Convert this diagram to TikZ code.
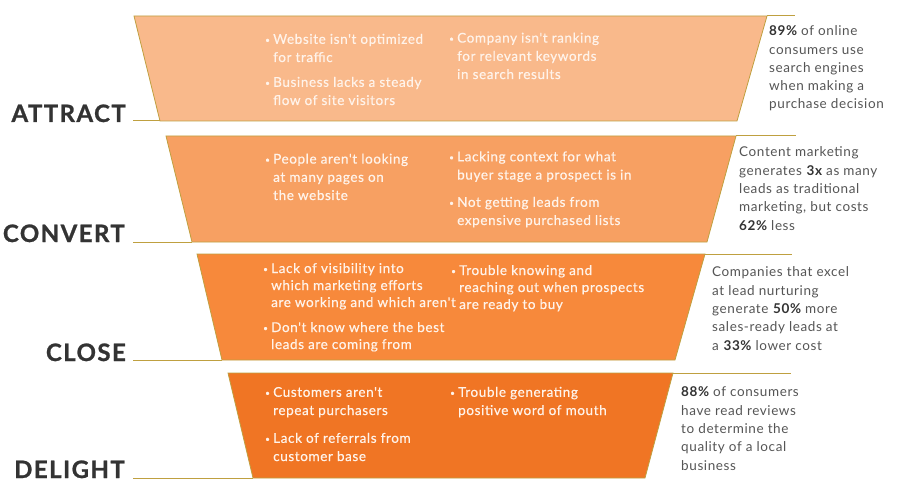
\documentclass[tikz,border=0pt]{standalone}
\usepackage{fontspec}
\usepackage{xcolor}
\setmainfont{Lato}
\newfontfamily\stagefont{Lato}[LetterSpace=6, BoldFeatures={FakeBold=1}]
\newfontfamily\bodyfont{Lato}[LetterSpace=4.5]
\newfontfamily\pointfont{Lato}[LetterSpace=4.5, FakeBold=0.5]

\definecolor{bandA}{HTML}{F9B98B}
\definecolor{bandB}{HTML}{F7A062}
\definecolor{bandC}{HTML}{F7893B}
\definecolor{bandD}{HTML}{F07524}
\definecolor{edge}{HTML}{BFA040}
\definecolor{ink}{HTML}{333333}
\definecolor{pale}{HTML}{FFF3EA}
\definecolor{grey}{HTML}{555555}

\newcommand{\bul}{\makebox[8pt][l]{\raisebox{1pt}{\scalebox{0.6}{•}}}}
\newcommand{\ind}{\hspace*{8pt}}
\newcommand{\hi}[1]{\textbf{\color{ink}#1}}

\begin{document}
\begin{tikzpicture}[x=1pt,y=-1pt,
    stage/.style={anchor=base east,inner sep=0pt,text=ink,font=\stagefont\fontsize{24}{24}\selectfont\bfseries},
    point/.style={anchor=base west,inner sep=0pt,align=left,text=pale,font=\pointfont\fontsize{13.5}{18.2}\selectfont},
    fact/.style={anchor=base west,inner sep=0pt,align=left,text=grey,font=\bodyfont\fontsize{13.5}{18.3}\selectfont}]
        \useasboundingbox (0,0) rectangle (900,492);

        % funnel bands: top/bottom/top left/bottom left/top right/bottom right/line end/colour
        \foreach \t/\b/\tl/\bl/\tr/\br/\e/\c in {16/121/134/160/767/737/795/bandA,
                136/242/166/192/736/707/796/bandB,
                254/360/197/222/705/675/792/bandC,
                373/478/228/253/673/645/791/bandD} {
            \filldraw[fill=\c, draw=edge, line width=0.8pt] (\tl,\t) -- (\tr,\t) -- (\br,\b) -- (\bl,\b) -- cycle;
            \draw[edge, line width=1pt] (\tr,\t) -- (\e,\t);
            \draw[edge, line width=1pt] (133,\b) -- (\bl,\b);
        }

        \node[stage] (attract) at (126,122) {ATTRACT};
        \node[stage] (convert) at (125,242) {CONVERT};
        \node[stage] (close) at (126,361) {CLOSE};
        \node[stage] (delight) at (125,478) {DELIGHT};

        % attract (nodes sit on the baseline of their last line)
        \node[point] (a1) at (265,62) {\bul Website isn't optimized\\\ind for traffic};
        \node[point] (a2) at (265,105) {\bul Business lacks a steady\\\ind flow of site visitors};
        \node[point] (a3) at (449,79) {\bul Company isn't ranking\\\ind for relevant keywords\\\ind in search results};
        \node[fact] (af) at (769,109) {\hi{89\%} of online\\consumers use\\search engines\\when making a\\purchase decision};

        % convert
        \node[point] (c1) at (265,200) {\bul People aren't looking\\\ind at many pages on\\\ind the website};
        \node[point] (c2) at (449,179.5) {\bul Lacking context for what\\\ind buyer stage a prospect is in};
        \node[point] (c3) at (449,225) {\bul Not getting leads from\\\ind expensive purchased lists};
        \node[fact] (cf) at (739,230) {Content marketing\\generates \hi{3x} as many\\leads as traditional\\marketing, but costs\\\hi{62\%} less};

        % close
        \node[point, font=\pointfont\fontsize{13.5}{17}\selectfont] (l1) at (263,307) {\bul Lack of visibility into\\\ind which marketing efforts\\\ind are working and which aren't};
        \node[point, font=\pointfont\fontsize{13.5}{17}\selectfont] (l2) at (263,349) {\bul Don't know where the best\\\ind leads are coming from};
        \node[point, font=\pointfont\fontsize{13.5}{17}\selectfont] (l3) at (451,309) {\bul Trouble knowing and\\\ind reaching out when prospects\\\ind are ready to buy};
        \node[fact] (lf) at (712,350) {Companies that excel\\at lead nurturing\\generate \hi{50\%} more\\sales-ready leads at\\a \hi{33\%} lower cost};

        % delight
        \node[point] (d1) at (265,415) {\bul Customers aren't\\\ind repeat purchasers};
        \node[point] (d2) at (265,461) {\bul Lack of referrals from\\\ind customer base};
        \node[point] (d3) at (450,415) {\bul Trouble generating\\\ind positive word of mouth};
        \node[fact] (df) at (681,470) {\hi{88\%} of consumers\\have read reviews\\to determine the\\quality of a local\\business};
    \end{tikzpicture}
\end{document}
